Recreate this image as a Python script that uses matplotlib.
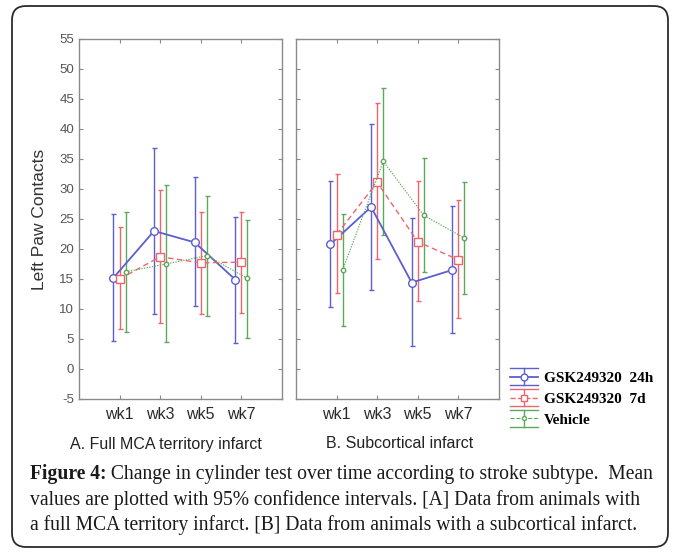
import matplotlib
matplotlib.use("Agg")
import matplotlib.pyplot as plt
from matplotlib.lines import Line2D
from matplotlib.legend_handler import HandlerBase
from matplotlib.patches import FancyBboxPatch
from matplotlib.transforms import IdentityTransform
import numpy as np

# --- data (means and 95% CI limits) ---
WEEKS = ["wk1", "wk3", "wk5", "wk7"]
SERIES = ["GSK249320  24h", "GSK249320  7d", "Vehicle"]

# A. Full MCA territory infarct
a_24h_mean = [15.2, 23.0, 21.1, 14.9]
a_24h_hi = [25.9, 36.9, 32.0, 25.4]
a_24h_lo = [4.7, 9.1, 10.5, 4.4]
a_7d_mean = [15.0, 18.7, 17.7, 17.8]
a_7d_hi = [23.6, 29.8, 26.1, 26.2]
a_7d_lo = [6.6, 7.6, 9.1, 9.4]
a_veh_mean = [16.2, 17.5, 18.9, 15.1]
a_veh_hi = [26.1, 30.6, 28.9, 24.9]
a_veh_lo = [6.2, 4.5, 8.9, 5.2]

# B. Subcortical infarct
b_24h_mean = [20.8, 27.0, 14.4, 16.5]
b_24h_hi = [31.4, 40.9, 25.2, 27.1]
b_24h_lo = [10.3, 13.2, 3.8, 6.0]
b_7d_mean = [22.4, 31.1, 21.2, 18.2]
b_7d_hi = [32.5, 44.4, 31.4, 28.2]
b_7d_lo = [12.6, 18.3, 11.3, 8.5]
b_veh_mean = [16.5, 34.6, 25.6, 21.8]
b_veh_hi = [25.9, 46.9, 35.2, 31.1]
b_veh_lo = [7.2, 22.4, 16.2, 12.5]

CAPTION_HEAD = "Figure 4:"
CAPTION = [
    " Change in cylinder test over time according to stroke subtype.  Mean",
    "values are plotted with 95% confidence intervals. [A] Data from animals with",
    "a full MCA territory infarct. [B] Data from animals with a subcortical infarct.",
]

# --- styles ---
COLORS = ["#5b5fcf", "#f0646e", "#5ca95c"]
LSTYLES = ["-", (0, (4, 2.5)), (0, (1.2, 1.2))]
MARKERS = ["o", "s", "o"]
MSIZES = [5.5, 5.5, 3.2]
LWIDTHS = [1.3, 1.0, 0.8]
OFFSETS = [-0.15, 0.0, 0.15]
GRAY = "#8a8a8a"


class ErrHandler(HandlerBase):
    """legend glyph: series line + marker, vertical bar, full-width caps"""
    def create_artists(self, legend, orig_handle, xdescent, ydescent,
                       width, height, fontsize, trans):
        c = orig_handle.get_color()
        x0, x1 = -xdescent, -xdescent + width
        xc = (x0 + x1) / 2
        ym = -ydescent + height / 2
        top, bot = ym + height * 0.58, ym - height * 0.58
        arts = [
            Line2D([x0, x1], [top, top], color=c, lw=1.0),
            Line2D([x0, x1], [bot, bot], color=c, lw=1.0),
            Line2D([xc, xc], [bot, top], color=c, lw=1.0),
            Line2D([x0, x1], [ym, ym], color=c, lw=orig_handle.get_linewidth(),
                   linestyle=orig_handle.get_linestyle()),
            Line2D([xc], [ym], marker=orig_handle.get_marker(), color=c,
                   markersize=orig_handle.get_markersize() * 0.9,
                   markerfacecolor="white", markeredgewidth=1.0, linestyle="none"),
        ]
        for a in arts:
            a.set_transform(trans)
        return arts


def draw_panel(ax, means, his, los, show_ylabels):
    x = np.arange(len(WEEKS))
    handles = []
    for i in range(3):
        m = np.array(means[i])
        yerr = [m - np.array(los[i]), np.array(his[i]) - m]
        ax.errorbar(x + OFFSETS[i], m, yerr=yerr, fmt="none", ecolor=COLORS[i],
                    elinewidth=1.0, capsize=1.8, capthick=1.0, zorder=2)
        h, = ax.plot(x + OFFSETS[i], m, color=COLORS[i], linestyle=LSTYLES[i],
                     lw=LWIDTHS[i], marker=MARKERS[i], markersize=MSIZES[i],
                     markerfacecolor="white", markeredgewidth=1.0, zorder=3)
        handles.append(h)
    ax.set_xlim(-1, 4)
    ax.set_ylim(-5, 55)
    ax.set_xticks(x)
    ax.set_yticks(np.arange(-5, 56, 5))
    ax.tick_params(direction="in", length=3, color=GRAY, top=True, right=True)
    ax.tick_params(axis="y", labelsize=9.5, labelcolor="#555555")
    ax.tick_params(axis="x", labelsize=11.5, labelcolor="#2a2a2a", pad=6)
    ax.set_xticklabels(WEEKS)
    if not show_ylabels:
        ax.tick_params(labelleft=False)
    for s in ax.spines.values():
        s.set_color(GRAY)
        s.set_linewidth(1.0)
    return handles


plt.rcParams["font.family"] = ["Liberation Sans", "DejaVu Sans"]
plt.rcParams["axes.unicode_minus"] = False
fig = plt.figure(figsize=(6.75, 5.56), dpi=100)

ax_a = fig.add_axes([0.1170, 0.2824, 0.3007, 0.6475])
ax_b = fig.add_axes([0.4385, 0.2824, 0.3007, 0.6475])

handles = draw_panel(ax_a, [a_24h_mean, a_7d_mean, a_veh_mean],
                     [a_24h_hi, a_7d_hi, a_veh_hi],
                     [a_24h_lo, a_7d_lo, a_veh_lo], True)
draw_panel(ax_b, [b_24h_mean, b_7d_mean, b_veh_mean],
           [b_24h_hi, b_7d_hi, b_veh_hi],
           [b_24h_lo, b_7d_lo, b_veh_lo], False)

ax_a.set_ylabel("Left Paw Contacts", fontsize=12.5, color="#333333", labelpad=9)

fig.text(166 / 675, 1 - 444 / 556, "A. Full MCA territory infarct", fontsize=11.5,
         ha="center", va="center", color="#222222")
fig.text(400 / 675, 1 - 444 / 556, "B. Subcortical infarct", fontsize=11.5,
         ha="center", va="center", color="#222222")

fig.legend(handles, SERIES, handler_map={Line2D: ErrHandler()},
           loc="center left", bbox_to_anchor=(510 / 675, 1 - 398 / 556),
           frameon=False, borderpad=0, borderaxespad=0, handlelength=1.85,
           handleheight=1.1, handletextpad=0.35, labelspacing=0.35,
           prop={"family": "Liberation Serif", "weight": "bold", "size": 11})

# caption
cap_font = {"family": "Liberation Serif", "size": 14.1, "color": "#1a1a1a"}
x0 = 30 / 675
baselines = [479, 505, 530]
t1 = fig.text(x0, 1 - baselines[0] / 556, CAPTION_HEAD, fontweight="bold",
              va="baseline", **cap_font)
plt.annotate(CAPTION[0], xy=(1, 0), xycoords=t1, va="bottom", ha="left",
             annotation_clip=False, **cap_font)
for line, b in zip(CAPTION[1:], baselines[1:]):
    fig.text(x0, 1 - b / 556, line, va="baseline", **cap_font)

# rounded frame around the whole figure
frame = FancyBboxPatch((12, 556 - 547), 656, 541,
                       boxstyle="round,pad=0,rounding_size=14",
                       transform=IdentityTransform(), facecolor="none",
                       edgecolor="#2b2b2b", linewidth=1.3)
fig.patches.append(frame)

fig.savefig("out.png", dpi=100)
